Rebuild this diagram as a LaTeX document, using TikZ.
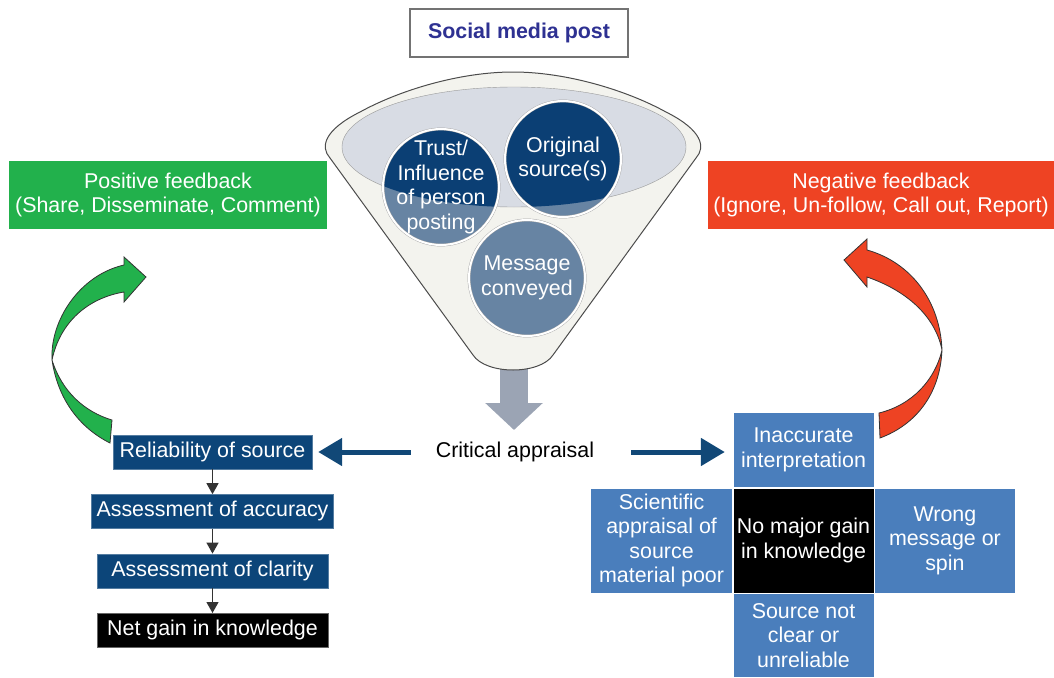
\documentclass[tikz,border=0pt]{standalone}
\usepackage{fontspec}
\setmainfont{Liberation Sans}
\usetikzlibrary{positioning,arrows.meta}
\definecolor{navybox}{HTML}{0C4579}
\definecolor{crossblue}{HTML}{4A7EBC}
\definecolor{posgreen}{HTML}{22B14C}
\definecolor{negred}{HTML}{EE4323}
\definecolor{titleblue}{HTML}{2E3192}
\definecolor{funnelfill}{HTML}{F3F3EE}
\definecolor{rimfill}{HTML}{D8DCE4}
\definecolor{darkcirc}{HTML}{0B3F74}
\definecolor{lightcirc}{HTML}{6784A3}
\definecolor{greyarrow}{HTML}{9BA4B4}
\definecolor{bluearrow}{HTML}{114877}
\tikzset{
  >={Triangle[length=11pt,width=12pt]},
  feedbox/.style={
    rectangle,
    text=white,
    align=center,
    inner sep=0pt,
    minimum height=68pt},
  stepbox/.style={
    rectangle,
    fill=navybox,
    draw=navybox!70!white,
    text=white,
    inner sep=0pt,
    minimum height=34pt},
  crossbox/.style={
    rectangle,
    fill=crossblue,
    draw=white, thin,
    text=white,
    align=center,
    inner sep=0pt,
    minimum width=141pt},
  topic/.style={
    circle,
    minimum size=116pt,
    inner sep=-12pt,
    fill=lightcirc,
    draw=black!35, double=white, double distance=2pt,
    text=white,
    align=center,
    % darker where the circle sits inside the rim
    path picture={\fill[darkcirc] (rimc) ellipse [x radius=172, y radius=60];}},
  bigarrow/.style={draw=bluearrow, line width=5pt, -{Triangle[length=24pt,width=27pt]}},
  smallarrow/.style={draw=black!80, line width=1.2pt, ->},
  feedback/.style={draw=black!80, line width=0.8pt},
}

\begin{document}
\begin{tikzpicture}
  [x=1pt, y=-1pt,
  font=\fontsize{21.4}{24.5}\selectfont,
  node distance=25pt]
  \useasboundingbox (0,0) rectangle (1054,677);

  % title
  \node[draw=black!55, line width=1.2pt, minimum width=218pt, minimum height=48pt, inner sep=0pt,
    text=titleblue, font=\fontsize{21.4}{24.5}\selectfont\bfseries] (post) at (519,33) {Social media post};

  % funnel
  \coordinate (fbot) at (514,367);
  \coordinate (fend) at (514,430);
  \draw[draw=greyarrow, line width=28pt, -{Triangle[length=27pt,width=56pt]}] (fbot) -- (fend);
  \draw[fill=funnelfill, draw=black!70, line width=1pt]
    (330,158) .. controls (320,147) and (324,130) .. (360,112)
    .. controls (400,90) and (460,72) .. (513,72)
    .. controls (566,72) and (626,90) .. (666,112)
    .. controls (702,130) and (706,147) .. (696,158)
    -- (553,355) .. controls (540,375) and (486,375) .. (473,355) -- cycle;
  \coordinate (rimc) at (514,147);
  \draw[fill=rimfill, draw=black!40] (rimc) ellipse [x radius=172, y radius=60];

  \node[topic] (trust) at (441,187) {Trust/\\Influence\\of person\\posting};
  \node[topic] (orig) at (563,159) {Original\\source(s)};
  \node[topic] (msg) at (527,278) {Message\\conveyed};

  % feedback boxes
  \node[feedbox, fill=posgreen, minimum width=318pt] (pos) at (168,195)
    {Positive feedback\\(Share, Disseminate, Comment)};
  \node[feedbox, fill=negred, minimum width=346pt] (neg) at (881,195)
    {Negative feedback\\(Ignore, Un-follow, Call out, Report)};

  % appraisal
  \node[inner sep=0pt] (crit) at (515,452) {Critical appraisal};

  % left column
  \node[stepbox, minimum width=199pt] (rel) at (212.5,452) {Reliability of source};
  \node[stepbox, minimum width=242pt, below=25pt of rel] (acc) {Assessment of accuracy};
  \node[stepbox, minimum width=231pt, below=25pt of acc] (cla) {Assessment of clarity};
  \node[stepbox, minimum width=231pt, fill=black, draw=black!60, below=25pt of cla] (net) {Net gain in knowledge};
  \draw[smallarrow] (rel) -- (acc);
  \draw[smallarrow] (acc) -- (cla);
  \draw[smallarrow] (cla) -- (net);

  % right cross
  \node[crossbox, fill=black, minimum height=105pt] (nogain) at (803.5,540.5) {No major gain\\in knowledge};
  \node[crossbox, minimum height=75pt, above=0pt of nogain] (inacc) {Inaccurate\\interpretation};
  \node[crossbox, minimum height=105pt, minimum width=142pt, left=0pt of nogain] (sci)
    {Scientific\\appraisal of\\source\\material poor};
  \node[crossbox, minimum height=105pt, right=0pt of nogain] (wrong) {Wrong\\message or\\spin};
  \node[crossbox, minimum height=84pt, below=0pt of nogain] (unrel) {Source not\\clear or\\unreliable};

  \draw[bigarrow, shorten <=25pt, shorten >=6pt] (crit.west) -- (rel.east);
  \draw[bigarrow, shorten <=37pt, shorten >=8pt] (crit.east) -- (inacc.west |- crit.east);

  %% curved arrows
  \draw[feedback, fill=posgreen] (110,443) .. controls (80,428) and (58,400) .. (52,360)
    .. controls (50,320) and (80,275) .. (124,265) -- (124,257) -- (146,277) -- (124,302) -- (124,292)
    .. controls (88,298) and (60,322) .. (52,360)
    .. controls (62,392) and (85,412) .. (112,420) -- cycle;
  \draw[feedback, fill=negred] (880,438) .. controls (915,425) and (940,395) .. (942,350)
    .. controls (940,300) and (910,262) .. (867,250) -- (867,239) -- (844,260) -- (867,287) -- (867,277)
    .. controls (905,290) and (935,315) .. (942,350)
    .. controls (935,380) and (912,405) .. (879,413) -- cycle;
\end{tikzpicture}
\end{document}
